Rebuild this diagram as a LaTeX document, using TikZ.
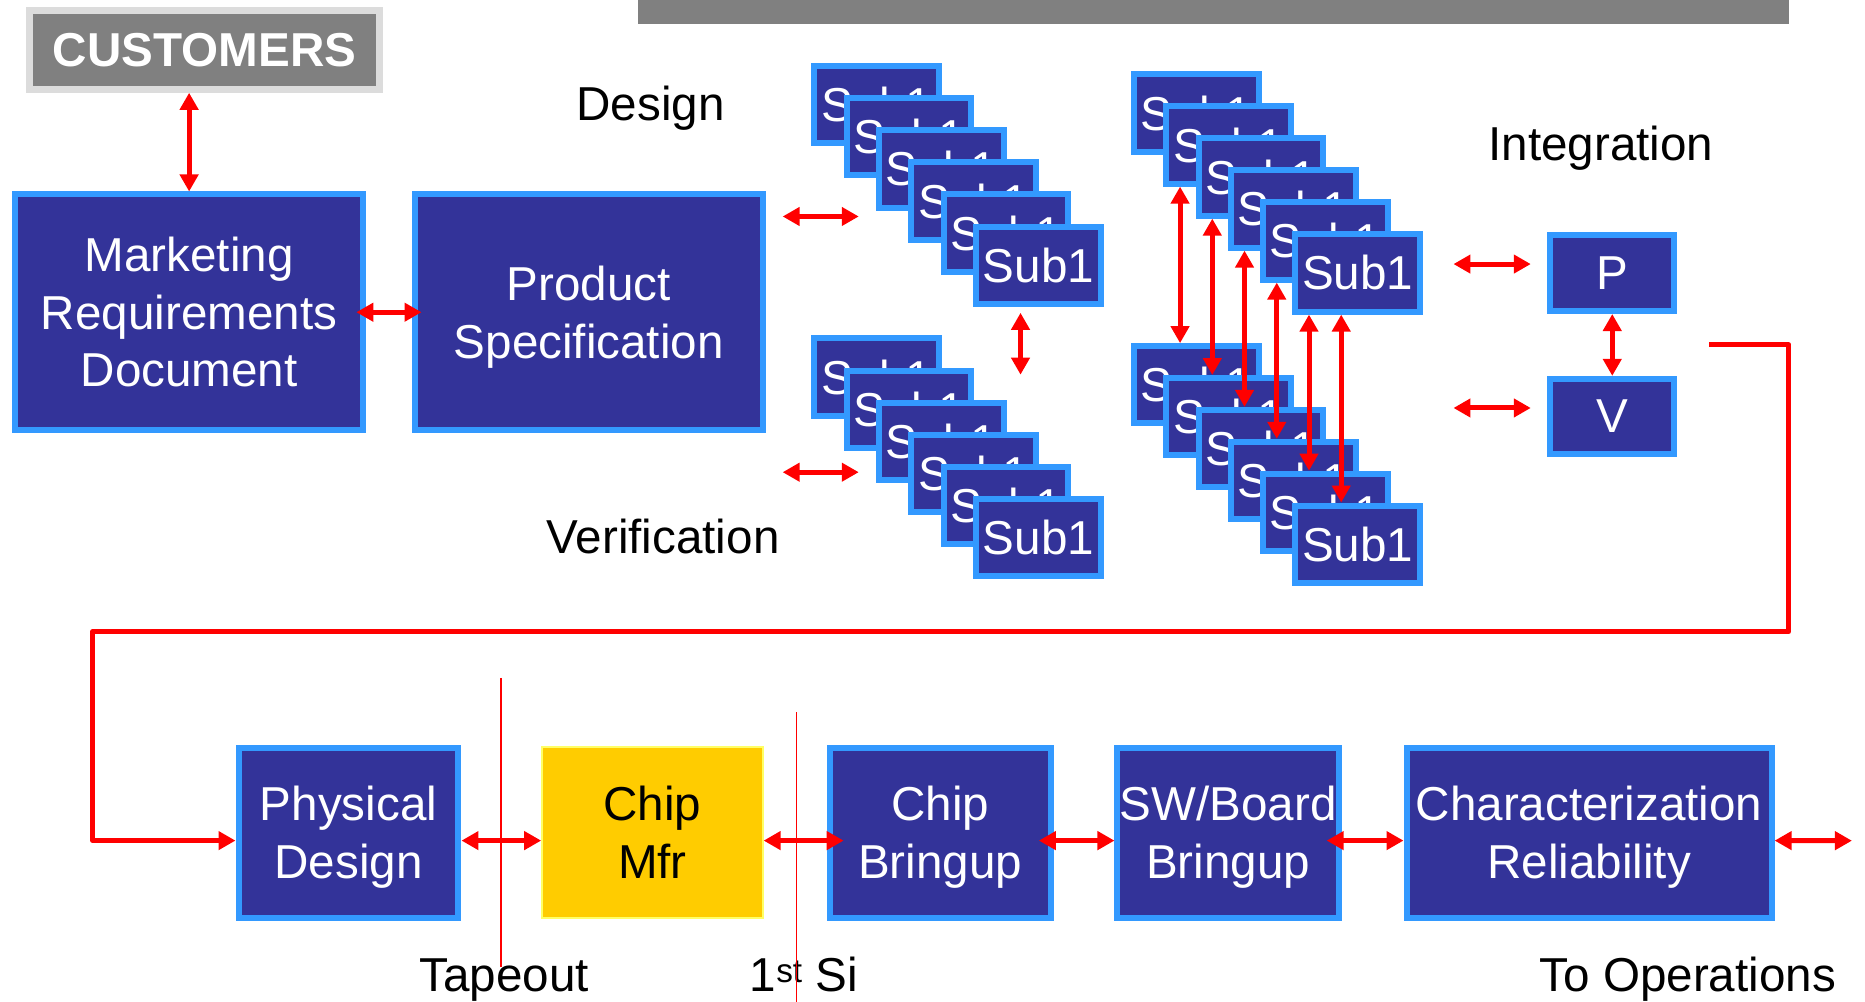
\documentclass[tikz,border=0pt]{standalone}
\usepackage{fontspec}
\setmainfont{Liberation Sans}
\usetikzlibrary{arrows.meta,calc}
\definecolor{boxfill}{HTML}{333399}
\definecolor{boxline}{HTML}{3399FF}
\definecolor{arrred}{HTML}{FF0000}
\definecolor{custgray}{HTML}{808080}
\definecolor{custline}{HTML}{DCDCDC}
\definecolor{mfrfill}{HTML}{FFCC00}
\definecolor{mfrline}{HTML}{FFFF66}
\newcommand\diagfont{\fontsize{47.6}{57.7}\selectfont}
\begin{document}
\begin{tikzpicture}[x=1.1894pt,y=-1.1894pt,
 blk/.style 2 args={draw=boxline, fill=boxfill, line width=6pt, text=white, inner sep=0pt,
   minimum width=#1*1.1894pt-6pt, minimum height=#2*1.1894pt-6pt, align=center, font=\diagfont},
 sub/.style={blk={110}{70}},
 arr/.style={draw=arrred, line width=5pt, {Triangle[length=17pt,width=18pt]}-{Triangle[length=17pt,width=18pt]}},
 onearr/.style={draw=arrred, line width=5pt, line join=round, -{Triangle[length=17pt,width=18pt]}},
 thinred/.style={draw=arrred, line width=1.5pt},
 lbl/.style={font=\diagfont, text=black, inner sep=0pt, anchor=base}]
\useasboundingbox (0,0) rectangle (1568,842);
% top bar
\fill[custgray] (536,-5) rectangle (1504,20.5);
% customers
\node[draw=custline, fill=custgray, line width=7pt, inner sep=0pt,
  minimum width=300*1.1894pt-7pt, minimum height=72*1.1894pt-7pt,
  text=white, font=\diagfont\bfseries] (CUST) at (172,42) {CUSTOMERS};
% main boxes
\node[blk={298}{203}] (MRD) at (159,262.5) {Marketing\\Requirements\\Document};
\node[blk={298}{203}] (PS) at (495,262.5) {Product\\\smash{Specification}};
% stacks
\foreach \k in {0,...,5} {
  \node[sub] (D\k) at ({737+27.2*\k},{88+27*\k}) {Sub1};
}
\foreach \k in {0,...,5} {
  \node[sub] (V\k) at ({737+27.2*\k},{317+27*\k}) {Sub1};
}
\foreach \k in {0,...,5} {
  \node[sub] (T\k) at ({1006+27.1*\k},{95+26.9*\k}) {Sub1};
}
\foreach \k in {0,...,5} {
  \node[sub] (B\k) at ({1006+27.1*\k},{323.5+26.8*\k}) {Sub1};
}
\node[blk={109}{69}] (P) at (1355.5,229.5) {P};
\node[blk={109}{68}] (Vb) at (1355.5,350) {V};
% labels
\node[lbl] (design) at (547,101) {Design};
\node[lbl] (verif) at (557.5,465) {Verification};
\node[lbl] (integ) at (1346,135) {Integration};
% bottom row
\node[blk={190}{148}] (PD) at (293,700) {Physical\\\smash{Design}};
\node[draw=mfrline, fill=mfrfill, line width=2pt, inner sep=0pt, text=black,
  minimum width=187*1.1894pt-2pt, minimum height=146*1.1894pt-2pt,
  align=center, font=\diagfont] (CM) at (548.5,700) {Chip\\Mfr};
\node[blk={191}{148}] (CB) at (790.5,700) {Chip\\\smash{Bringup}};
\node[blk={191}{148}] (SB) at (1032.5,700) {SW/Board\\\smash{Bringup}};
\node[blk={312}{148}] (CR) at (1336,700) {Characterization\\\smash{Reliability}};
\node[lbl] (tape) at (424,834) {Tapeout};
\node[lbl] (firstsi) at (676,834) {1\textsuperscript{st} Si};
\node[lbl] (toops) at (1419,834) {To Operations};
% free coordinates
\coordinate (da1) at (658,182); \coordinate (da2) at (722,182);
\coordinate (va1) at (658,397); \coordinate (va2) at (722,397);
\coordinate (dv1) at (858,263); \coordinate (dv2) at (858,315);
\coordinate (ip1) at (1222,222); \coordinate (ip2) at (1287,222);
\coordinate (iv1) at (1222,343); \coordinate (iv2) at (1287,343);
\coordinate (fb0) at (1437,290);
\coordinate (fbR) at (1504,531); \coordinate (fbL) at (78,531);
\coordinate (out) at (1557,706.8);
\coordinate (to1) at (421,570); \coordinate (to2) at (421,813);
\coordinate (si1) at (669.5,599); \coordinate (si2) at (669.5,845);
% arrows
\draw[arr] (MRD.north |- CUST.south) -- (MRD.north);
\draw[arr] ([xshift=-10pt]MRD.east) -- ([xshift=10pt]PS.west);
\draw[arr] (da1) -- (da2);
\draw[arr] (va1) -- (va2);
\draw[arr] (dv1) -- (dv2);
\draw[arr] (ip1) -- (ip2);
\draw[arr] (iv1) -- (iv2);
\draw[arr] (P.south) -- (Vb.north);
\foreach \k/\j in {0/1,1/2,2/3,3/4,4/5,5/5} {
  \coordinate (ax\k) at ([xshift=-16.5pt]T\k.south);
  \draw[arr] (ax\k |- T\j.south) -- (ax\k |- B\k.north);
}
\draw[onearr] (fb0) -| (fbR) -- (fbL) |- ([yshift=-8pt]PD.west);
\draw[arr] ([yshift=-8pt]PD.east) -- ([yshift=-8pt]CM.west);
\draw[arr] ([yshift=-8pt]CM.east) -- ([xshift=17pt,yshift=-8pt]CB.west);
\draw[arr] ([xshift=-15pt,yshift=-8pt]CB.east) -- ([yshift=-8pt]SB.west);
\draw[arr] ([xshift=-15pt,yshift=-8pt]SB.east) -- ([yshift=-8pt]CR.west);
\draw[arr] ([yshift=-8pt]CR.east) -- (out);
\draw[thinred] (to1) -- (to2);
\draw[thinred] (si1) -- (si2);
\end{tikzpicture}
\end{document}
